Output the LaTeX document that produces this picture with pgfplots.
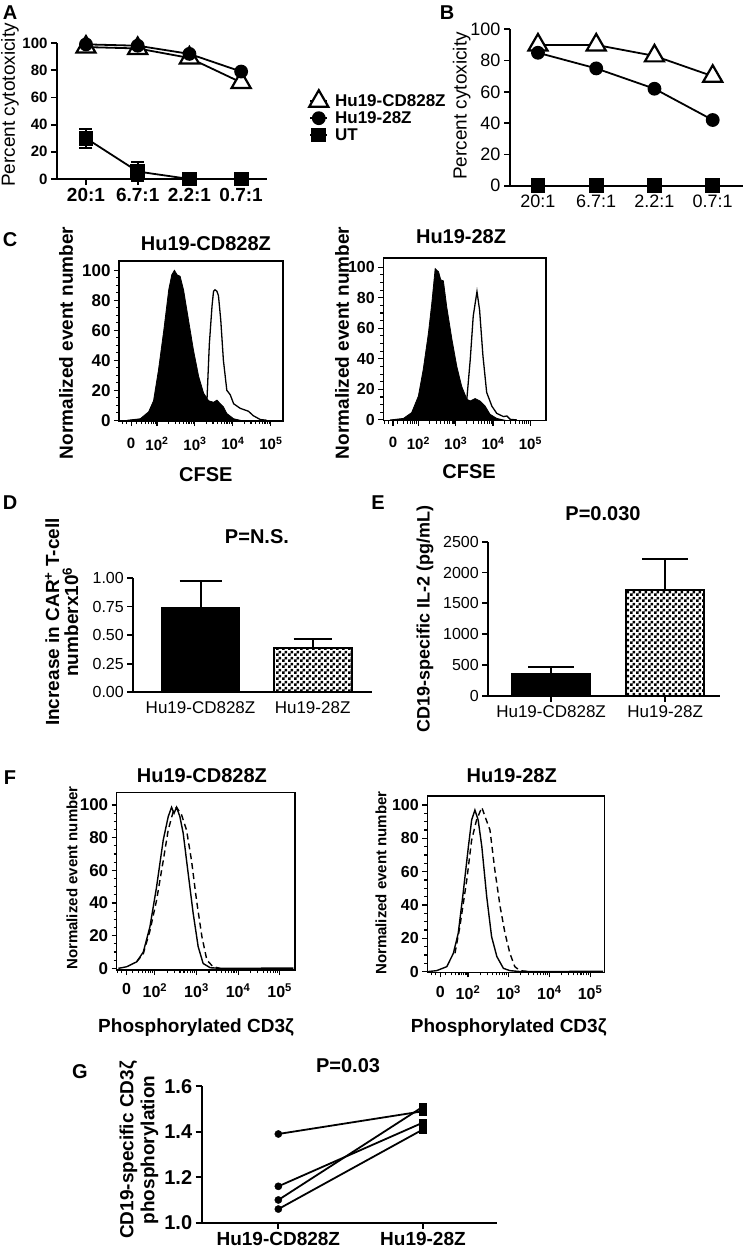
\documentclass[border=0pt]{standalone}
\usepackage{fontspec}
\setmainfont{Liberation Sans}
\usepackage{pgfplots}
\pgfplotsset{compat=1.18}
\usetikzlibrary{patterns}
\newcommand\fs[1]{\fontsize{#1}{#1}\selectfont}
\pgfdeclarepatternformonly{chk}{\pgfpointorigin}{\pgfqpoint{6pt}{6pt}}{\pgfqpoint{6pt}{6pt}}{%
 \pgfpathrectangle{\pgfpointorigin}{\pgfqpoint{3pt}{3pt}}%
 \pgfpathrectangle{\pgfqpoint{3pt}{3pt}}{\pgfqpoint{3pt}{3pt}}%
 \pgfusepath{fill}}
\pgfplotsset{
 prism/.style={scale only axis, clip=false, axis x line=bottom, axis y line=left,
   axis line style={-, line width=2pt}, tick style={line width=1.8pt, black},
   major tick length=6pt, tick align=outside, enlargelimits=false,
   /pgf/number format/assume math mode=true, scaled y ticks=false, scaled x ticks=false},
 flow/.style={scale only axis, clip=false, axis line style={line width=1.3pt},
   tick style={line width=1.1pt, black}, major tick length=5pt, minor tick length=3pt,
   tick align=outside, xtick pos=bottom, ytick pos=left, enlargelimits=false,
   /pgf/number format/assume math mode=true,
   xtick={1.32,2,3,4,5},
   xticklabels={0,10\textsuperscript{2},10\textsuperscript{3},10\textsuperscript{4},10\textsuperscript{5}},
   minor xtick={1.1,1.2,1.45,1.6,1.7,1.78,1.85,1.9,1.95,2.301,2.477,2.602,2.699,2.778,2.845,2.903,2.954,3.301,3.477,3.602,3.699,3.778,3.845,3.903,3.954,4.301,4.477,4.602,4.699,4.778,4.845,4.903,4.954},
   ytick={0,20,40,60,80,100}, minor y tick num=3},
 ebar/.style={error bars/.cd, y dir=plus, y explicit, error bar style={line width=2pt},
   error mark options={rotate=90, line width=2pt, mark size=#1}},
}
\begin{document}
\begin{tikzpicture}
\path[use as bounding box] (0pt,0pt) rectangle (747pt,-1250pt);
% panel letters
\node[font=\fs{20}\bfseries] at (10pt,-13pt) {A};
\node[font=\fs{20}\bfseries] at (447pt,-13pt) {B};
\node[font=\fs{20}\bfseries] at (10pt,-240pt) {C};
\node[font=\fs{20}\bfseries] at (10pt,-503pt) {D};
\node[font=\fs{20}\bfseries] at (378pt,-503pt) {E};
\node[font=\fs{20}\bfseries] at (10pt,-778pt) {F};
\node[font=\fs{20}\bfseries] at (80pt,-1072pt) {G};

% ---------------- A
\begin{axis}[prism, at={(57pt,-179pt)}, anchor=south west, width=210pt, height=136pt,
  xmin=-0.56, xmax=3.5, ymin=0, ymax=100,
  xtick={0,1,2,3}, xticklabels={20:1,6.7:1,2.2:1,0.7:1},
  ytick={0,20,40,60,80,100},
  xticklabel style={font=\fs{19}\bfseries},
  yticklabel style={font=\fs{15}\bfseries},
  ylabel={Percent cytotoxicity},
  ylabel style={at={(axis description cs:-0.224,0.544)}, anchor=center, font=\fs{19}},
  legend style={at={(1.186,0.669)}, anchor=north west, draw=none, fill=none,
    font=\fs{17}\bfseries, nodes={inner sep=1.8pt}, cells={anchor=west},
    /tikz/every odd column/.append style={column sep=5pt}}]
\addplot[black, line width=1.8pt, mark=triangle*, mark size=11pt,
  mark options={fill=white, draw=black, line width=2.2pt}]
  coordinates {(0,97) (1,96) (2,89) (3,71)};
\addlegendentry{Hu19-CD828Z}
\addplot[black, line width=1.8pt, mark=*, mark size=6pt]
  coordinates {(0,99) (1,98) (2,92) (3,79)};
\addlegendentry{Hu19-28Z}
\addplot[black, line width=1.8pt, mark=square*, mark size=6.5pt,
  error bars/.cd, y dir=both, y explicit,
  error bar style={line width=1.8pt},
  error mark options={rotate=90, line width=1.8pt, mark size=6.5pt}]
  coordinates {(0,30) +- (0,7) (1,5.5) +- (0,7) (2,0) (3,0)};
\addlegendentry{UT}
\end{axis}

% ---------------- B
\begin{axis}[prism, at={(510pt,-185.7pt)}, anchor=south west, width=233pt, height=156.4pt,
  xmin=-0.48, xmax=3.52, ymin=0, ymax=100,
  xtick={0,1,2,3}, xticklabels={20:1,6.7:1,2.2:1,0.7:1},
  ytick={0,20,40,60,80,100},
  xticklabel style={font=\fs{18}},
  yticklabel style={font=\fs{18}},
  ylabel={Percent cytoxicity},
  ylabel style={at={(axis description cs:-0.207,0.51)}, anchor=center, font=\fs{19}}]
\addplot[black, line width=1.8pt, mark=triangle*, mark size=11pt,
  mark options={fill=white, draw=black, line width=2.2pt}]
  coordinates {(0,90) (1,90) (2,83) (3,70)};
\addplot[black, line width=1.8pt, mark=*, mark size=6pt]
  coordinates {(0,85) (1,75) (2,62) (3,42)};
\addplot[black, line width=1.8pt, mark=square*, mark size=6.5pt]
  coordinates {(0,0) (1,0) (2,0) (3,0)};
\end{axis}

% ---------------- C1
\begin{axis}[flow, at={(119pt,-421pt)}, anchor=south west, width=164pt, height=160pt,
  xmin=1.0, xmax=5.32, ymin=-0.5, ymax=106.2,
  xticklabel style={font=\fs{15}\bfseries, yshift=-8pt},
  yticklabel style={font=\fs{17}\bfseries},
  title={Hu19-CD828Z},
  title style={at={(axis description cs:0.53,1.069)}, anchor=center, font=\fs{20}\bfseries},
  xlabel={CFSE},
  xlabel style={at={(axis description cs:0.53,-0.3375)}, anchor=center, font=\fs{20}\bfseries},
  ylabel={Normalized event number},
  ylabel style={at={(axis description cs:-0.323,0.4875)}, anchor=center, font=\fs{19}\bfseries}]
\addplot[black, line width=1.3pt] coordinates {(2.8,2) (3.32,15) (3.38,51) (3.45,76) (3.49,86) (3.53,87) (3.58,86) (3.62,83) (3.68,67) (3.75,40) (3.84,20) (3.93,17) (4.02,11) (4.19,8) (4.41,6) (4.54,3) (4.72,0.5) (4.89,0)};
\addplot[black, fill=black, line width=0.8pt] coordinates {(1.21,0) (1.56,1) (1.78,5.6) (1.91,13) (2.04,33.5) (2.18,60) (2.31,87) (2.39,97) (2.46,100) (2.53,97) (2.61,96) (2.70,87) (2.83,67) (2.96,47) (3.10,29) (3.23,18) (3.36,13) (3.49,12) (3.58,13.4) (3.67,11) (3.75,9) (3.84,4.5) (4.02,1) (4.19,0)} \closedcycle;
\end{axis}

% ---------------- C2
\begin{axis}[flow, at={(383.3pt,-420.7pt)}, anchor=south west, width=162.7pt, height=162.7pt,
  xmin=1.06, xmax=5.42, ymin=-0.5, ymax=106,
  xticklabel style={font=\fs{15}\bfseries, yshift=-8pt},
  yticklabel style={font=\fs{16}\bfseries},
  title={Hu19-28Z},
  title style={at={(axis description cs:0.478,1.094)}, anchor=center, font=\fs{20}\bfseries},
  xlabel={CFSE},
  xlabel style={at={(axis description cs:0.527,-0.315)}, anchor=center, font=\fs{20}\bfseries},
  ylabel={Normalized event number},
  ylabel style={at={(axis description cs:-0.254,0.478)}, anchor=center, font=\fs{19}\bfseries}]
\addplot[black, line width=1.3pt] coordinates {(2.9,2) (3.30,14) (3.39,39.6) (3.47,68) (3.57,84) (3.64,72) (3.73,42) (3.83,18) (3.97,9) (4.10,4.3) (4.28,2.2) (4.37,2.6) (4.46,0.4) (4.64,0)};
\addplot[black, fill=black, line width=0.8pt] coordinates {(1.24,0) (1.60,1) (1.82,4.8) (2.00,15.6) (2.13,33) (2.27,57) (2.36,76.5) (2.45,99) (2.54,97) (2.60,91.7) (2.67,91) (2.76,74) (2.90,52.6) (3.03,35) (3.16,22) (3.30,13.5) (3.39,12.4) (3.52,14) (3.65,12.4) (3.79,9) (3.92,3.7) (4.10,1) (4.28,0)} \closedcycle;
\end{axis}

% ---------------- D
\begin{axis}[prism, at={(133.3pt,-692.3pt)}, anchor=south west, width=238.7pt, height=114.3pt,
  xmin=-0.6, xmax=1.53, ymin=0, ymax=1,
  xtick={0,1}, xticklabels={Hu19-CD828Z,Hu19-28Z},
  every major x tick/.append style={opacity=0},
  ytick={0,0.25,0.5,0.75,1}, yticklabels={0.00,0.25,0.50,0.75,1.00},
  xticklabel style={font=\fs{17}},
  yticklabel style={font=\fs{16}},
  title={P=N.S.},
  title style={at={(axis description cs:0.518,1.306)}, anchor=center, font=\fs{20}\bfseries},
  ylabel={Increase in CAR\textsuperscript{+} T-cell\\numberx10\textsuperscript{6}},
  ylabel style={at={(axis description cs:-0.30,0.615)}, anchor=center, align=center,
    font=\fontsize{19}{19}\selectfont\bfseries}]
\addplot[ybar, bar shift=0pt, bar width=78pt, fill=black, draw=black, line width=1.5pt, ebar=21pt]
  coordinates {(0,0.74) +- (0,0.23)};
\addplot[ybar, bar shift=0pt, bar width=78pt, pattern=chk, draw=black, line width=2pt, ebar=19pt]
  coordinates {(1,0.39) +- (0,0.08)};
\end{axis}

% ---------------- E
\begin{axis}[prism, at={(488.3pt,-695.7pt)}, anchor=south west, width=231.7pt, height=154pt,
  xmin=-0.55, xmax=1.48, ymin=0, ymax=2500,
  xtick={0,1}, xticklabels={Hu19-CD828Z,Hu19-28Z},
  ytick={0,500,1000,1500,2000,2500}, yticklabels={0,500,1000,1500,2000,2500},
  xticklabel style={font=\fs{17}},
  yticklabel style={font=\fs{16}},
  title={P=0.030},
  title style={at={(axis description cs:0.495,1.141)}, anchor=center, font=\fs{20}\bfseries},
  ylabel={CD19-specific IL-2 (pg/mL)},
  ylabel style={at={(axis description cs:-0.273,0.5)}, anchor=center, font=\fs{18}\bfseries}]
\addplot[ybar, bar shift=0pt, bar width=78pt, fill=black, draw=black, line width=1.5pt, ebar=23pt]
  coordinates {(0,360) +- (0,110)};
\addplot[ybar, bar shift=0pt, bar width=78pt, pattern=chk, draw=black, line width=2pt, ebar=23pt]
  coordinates {(1,1720) +- (0,495)};
\end{axis}

% ---------------- F1
\begin{axis}[flow, at={(116.7pt,-970pt)}, anchor=south west, width=178.3pt, height=177.3pt,
  xmin=1.08, xmax=5.37, ymin=-1, ymax=107.5,
  xticklabel style={font=\fs{16}\bfseries, yshift=-5pt},
  yticklabel style={font=\fs{17}\bfseries},
  title={Hu19-CD828Z},
  title style={at={(axis description cs:0.478,1.062)}, anchor=center, font=\fs{20}\bfseries},
  xlabel={Phosphorylated CD3ζ},
  xlabel style={at={(axis description cs:0.445,-0.327)}, anchor=center, font=\fs{19}\bfseries},
  ylabel={Normalized event number},
  ylabel style={at={(axis description cs:-0.251,0.519)}, anchor=center, font=\fs{15}\bfseries}]
\addplot[black, line width=1.4pt] coordinates {(1.12,0) (1.32,1) (1.56,4) (1.72,10) (1.88,25.5) (2.04,50) (2.20,78.6) (2.32,92.9) (2.40,98.6) (2.46,94.9) (2.52,98.6) (2.60,92.9) (2.68,82.7) (2.80,58) (2.92,33.7) (3.04,13.3) (3.16,3) (3.33,0.4) (3.6,0) (5.33,0.2)};
\addplot[black, line width=1.4pt, dash pattern=on 6pt off 4pt] coordinates {(1.56,4) (1.72,9) (1.88,23) (2.04,41.8) (2.20,66) (2.32,84.7) (2.44,96) (2.52,98.6) (2.64,94) (2.76,84.7) (2.88,66) (3.00,41.8) (3.13,19.4) (3.25,5) (3.40,1) (3.57,0)};
\end{axis}

% ---------------- F2
\begin{axis}[flow, at={(427.3pt,-972.3pt)}, anchor=south west, width=177pt, height=176.3pt,
  xmin=1.0, xmax=5.35, ymin=-0.4, ymax=105.4,
  xticklabel style={font=\fs{16}\bfseries, yshift=-5pt},
  yticklabel style={font=\fs{16}\bfseries},
  title={Hu19-28Z},
  title style={at={(axis description cs:0.477,1.081)}, anchor=center, font=\fs{20}\bfseries},
  xlabel={Phosphorylated CD3ζ},
  xlabel style={at={(axis description cs:0.46,-0.316)}, anchor=center, font=\fs{19}\bfseries},
  ylabel={Normalized event number},
  ylabel style={at={(axis description cs:-0.262,0.506)}, anchor=center, font=\fs{15}\bfseries}]
\addplot[black, line width=1.4pt] coordinates {(1.00,0) (1.23,0.6) (1.48,3) (1.64,11) (1.76,23) (1.88,47) (2.01,75) (2.09,91) (2.17,97) (2.25,91) (2.34,75) (2.46,45) (2.58,21) (2.71,9) (2.87,2) (3.03,0.6) (3.3,0) (5.32,0.2)};
\addplot[black, line width=1.4pt, dash pattern=on 6pt off 4pt] coordinates {(1.68,11) (1.80,27) (1.97,55) (2.09,79) (2.21,91) (2.34,98.6) (2.42,93) (2.54,85) (2.66,61) (2.79,39) (2.91,23) (3.03,11) (3.15,3) (3.28,0.6) (3.52,0)};
\end{axis}

% ---------------- G
\begin{axis}[prism, at={(201.7pt,-1222.7pt)}, anchor=south west, width=295pt, height=136.5pt,
  xmin=-0.53, xmax=1.51, ymin=1.0, ymax=1.6,
  xtick={0,1}, xticklabels={Hu19-CD828Z,Hu19-28Z},
  ytick={1.0,1.2,1.4,1.6}, yticklabels={1.0,1.2,1.4,1.6},
  xticklabel style={font=\fs{19}\bfseries},
  yticklabel style={font=\fs{20}\bfseries},
  title={P=0.03},
  title style={at={(axis description cs:0.496,1.104)}, anchor=center, font=\fs{20}\bfseries},
  ylabel={CD19-specific CD3ζ\\phosphorylation},
  ylabel style={at={(axis description cs:-0.2125,0.533)}, anchor=center, align=center,
    font=\fontsize{19}{21}\selectfont\bfseries}]
\addplot[black, line width=1.8pt] coordinates {(0,1.39) (1,1.49)};
\addplot[black, line width=1.8pt] coordinates {(0,1.16) (1,1.44)};
\addplot[black, line width=1.8pt] coordinates {(0,1.10) (1,1.51)};
\addplot[black, line width=1.8pt] coordinates {(0,1.06) (1,1.41)};
\addplot[only marks, mark=*, mark size=3.6pt, black] coordinates {(0,1.39) (0,1.16) (0,1.10) (0,1.06)};
\addplot[only marks, mark=square*, mark size=3.6pt, black] coordinates {(1,1.49) (1,1.44) (1,1.51) (1,1.41)};
\end{axis}
\end{tikzpicture}
\end{document}
